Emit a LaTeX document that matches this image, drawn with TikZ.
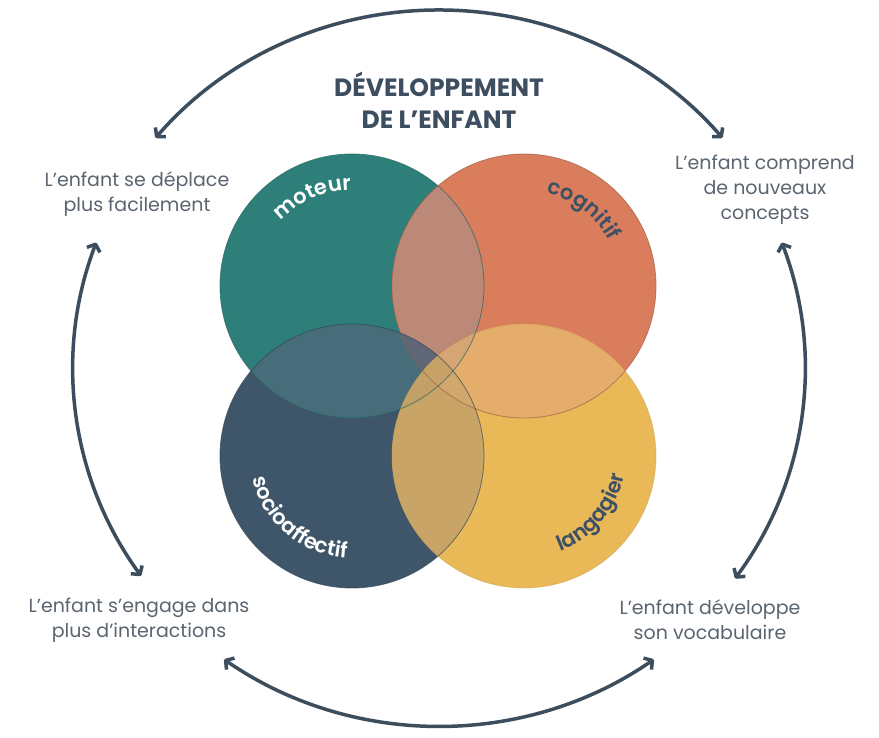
\documentclass[tikz,border=0pt]{standalone}
\usepackage{fontspec}
\setmainfont{Poppins}
\newfontfamily\labfont{Poppins SemiBold}
\usetikzlibrary{arrows.meta,decorations.text}
\definecolor{cM}{HTML}{2E7F79}
\definecolor{cC}{HTML}{DA7D5C}
\definecolor{cS}{HTML}{3F5569}
\definecolor{cL}{HTML}{E9B857}
\definecolor{cMC}{HTML}{BC8877}
\definecolor{cMS}{HTML}{466D79}
\definecolor{cCL}{HTML}{E4AD6B}
\definecolor{cSL}{HTML}{C9A467}
\definecolor{cMCS}{HTML}{5E6677}
\definecolor{cMCL}{HTML}{D5A573}
\definecolor{cMSL}{HTML}{C3A067}
\definecolor{cCSL}{HTML}{D1A76B}
\definecolor{cALL}{HTML}{C6A268}
\definecolor{arrowc}{HTML}{3C4D5E}
\definecolor{titlec}{HTML}{3D4E60}
\definecolor{bodyc}{HTML}{5A6570}
\definecolor{labdark}{HTML}{3E5066}
\begin{document}
\begin{tikzpicture}[x=1pt,y=1pt,
  body/.style={font=\fontsize{19}{25}\selectfont, text=bodyc, align=center, inner sep=0pt},
  cyc/.style={line width=3.5pt, draw=arrowc, line cap=round,
    {Straight Barb[length=6pt,width=14pt,line join=round]}-{Straight Barb[length=6pt,width=14pt,line join=round]}},
  rim/.style={line width=0.8pt, opacity=0.7}]
\useasboundingbox (0,0) rectangle (879,737);
\fill[white] (0,0) rectangle (879,737);
\def\R{132}
\coordinate (M) at (352,451);
\coordinate (C) at (524,451);
\coordinate (S) at (352,281);
\coordinate (L) at (524,281);
% base circles
\fill[cM] (M) circle (\R);
\fill[cC] (C) circle (\R);
\fill[cS] (S) circle (\R);
\fill[cL] (L) circle (\R);
% pairwise overlaps
\begin{scope}\clip (M) circle (\R); \fill[cMC] (C) circle (\R); \end{scope}
\begin{scope}\clip (M) circle (\R); \fill[cMS] (S) circle (\R); \end{scope}
\begin{scope}\clip (C) circle (\R); \fill[cCL] (L) circle (\R); \end{scope}
\begin{scope}\clip (S) circle (\R); \fill[cSL] (L) circle (\R); \end{scope}
% triple overlaps
\begin{scope}\clip (M) circle (\R); \clip (C) circle (\R); \fill[cMCS] (S) circle (\R); \end{scope}
\begin{scope}\clip (M) circle (\R); \clip (C) circle (\R); \fill[cMCL] (L) circle (\R); \end{scope}
\begin{scope}\clip (M) circle (\R); \clip (S) circle (\R); \fill[cMSL] (L) circle (\R); \end{scope}
\begin{scope}\clip (C) circle (\R); \clip (S) circle (\R); \fill[cCSL] (L) circle (\R); \end{scope}
\begin{scope}\clip (M) circle (\R); \clip (C) circle (\R); \clip (S) circle (\R); \fill[cALL] (L) circle (\R); \end{scope}
% thin rims
\draw[rim, draw=cM!80!black] (M) circle (\R);
\draw[rim, draw=cC!75!black] (C) circle (\R);
\draw[rim, draw=cS!85!black] (S) circle (\R);
\draw[rim, draw=cL!85!black, opacity=0.4] (L) circle (\R);
% curved labels
\path[decorate, decoration={text along path, text align=center,
  text={|\fontsize{21}{21}\labfont\color{white}|moteur}}]
  ([shift={(150:96)}]M) arc[start angle=150, end angle=78, radius=96];
\path[decorate, decoration={text along path, text align=center,
  text={|\fontsize{21}{21}\labfont\color{labdark}|cognitif}}]
  ([shift={(92:96)}]C) arc[start angle=92, end angle=12, radius=96];
\path[decorate, decoration={text along path, text align=center,
  text={|\fontsize{21}{21}\labfont\color{white}|socioaffectif}}]
  ([shift={(165:102)}]S) arc[start angle=165, end angle=295, radius=102];
\path[decorate, decoration={text along path, text align=center,
  text={|\fontsize{21}{21}\labfont\color{labdark}|langagier}}]
  ([shift={(-100:102)}]L) arc[start angle=-100, end angle=20, radius=102];
% title
\node[font=\fontsize{25}{32}\selectfont\bfseries, text=titlec, align=center] (title) at (439,637) {DÉVELOPPEMENT\\DE L’ENFANT};
% side texts
\node[body] (tl) at (137,543) {L’enfant se déplace\\plus facilement};
\node[body] (tr) at (765,547) {L’enfant comprend\\de nouveaux\\concepts};
\node[body] (bl) at (139,117) {L’enfant s’engage dans\\plus d’interactions};
\node[body] (br) at (710,117) {L’enfant développe\\son vocabulaire};
% cycle arrows
\coordinate (O) at (439,369);
\coordinate (a1) at ([shift={(O)}]140:370 and 358);
\coordinate (a2) at ([shift={(O)}]40:370 and 358);
\coordinate (b1) at ([shift={(O)}]20.5:366 and 358);
\coordinate (b2) at ([shift={(O)}]-36:366 and 358);
\coordinate (c1) at ([shift={(O)}]305.5:370 and 358);
\coordinate (c2) at ([shift={(O)}]234.5:370 and 358);
\coordinate (d1) at ([shift={(O)}]215.5:366 and 358);
\coordinate (d2) at ([shift={(O)}]159.5:366 and 358);
\draw[cyc] (a1) arc[start angle=140, end angle=40, x radius=370, y radius=358];
\draw[cyc] (b1) arc[start angle=20.5, end angle=-36, x radius=366, y radius=358];
\draw[cyc] (c1) arc[start angle=305.5, end angle=234.5, x radius=370, y radius=358];
\draw[cyc] (d1) arc[start angle=215.5, end angle=159.5, x radius=366, y radius=358];
\end{tikzpicture}
\end{document}
